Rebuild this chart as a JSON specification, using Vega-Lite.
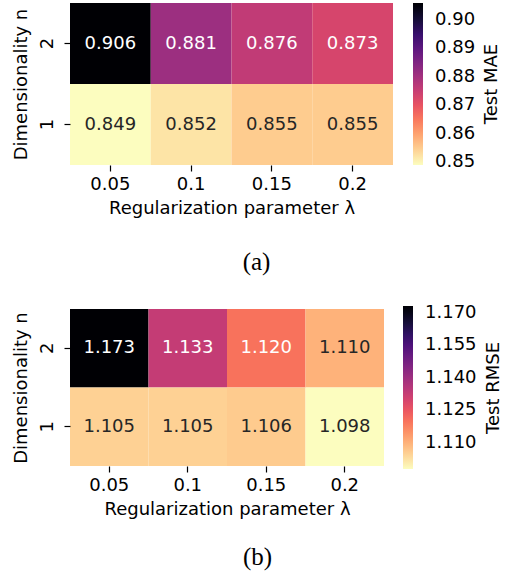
{
  "$schema": "https://vega.github.io/schema/vega-lite/v6.json",
  "padding": {"left": 11, "top": 3, "right": 5, "bottom": 5},
  "spacing": 31,
  "resolve": {"scale": {"color": "independent"}, "legend": {"color": "independent"}},
  "config": {
    "font": "DejaVu Sans",
    "view": {"stroke": null},
    "axis": {"labelFont": "DejaVu Sans", "labelFontSize": 18, "titleFont": "DejaVu Sans", "titleFontSize": 18, "titleFontWeight": "normal", "labelColor": "black", "titleColor": "black", "tickColor": "black", "tickSize": 6, "tickWidth": 1.2, "domain": false, "grid": false, "labelPadding": 4, "titlePadding": 6},
    "legend": {"labelFont": "DejaVu Sans", "labelFontSize": 18, "labelColor": "black", "titleFont": "DejaVu Sans", "titleFontSize": 18, "titleFontWeight": "normal", "titleColor": "black", "titleOrient": "right", "titleAnchor": "middle", "labelOffset": 12, "titlePadding": 8, "labelOverlap": false, "gradientStrokeWidth": 0, "gradientThickness": 10, "direction": "vertical"},
    "title": {"font": "Liberation Serif", "fontSize": 25, "fontWeight": "normal", "orient": "bottom", "anchor": "middle", "frame": "bounds", "color": "black"}
  },
  "vconcat": [
    {
      "title": {"text": "(a)", "offset": 33},
      "width": 323,
      "height": 162,
      "data": {"values": [
        {"lam": "0.05", "n": 2, "v": 0.906},
        {"lam": "0.1", "n": 2, "v": 0.881},
        {"lam": "0.15", "n": 2, "v": 0.876},
        {"lam": "0.2", "n": 2, "v": 0.873},
        {"lam": "0.05", "n": 1, "v": 0.849},
        {"lam": "0.1", "n": 1, "v": 0.852},
        {"lam": "0.15", "n": 1, "v": 0.855},
        {"lam": "0.2", "n": 1, "v": 0.855}
      ]},
      "encoding": {
        "x": {"field": "lam", "type": "ordinal", "sort": ["0.05", "0.1", "0.15", "0.2"], "scale": {"paddingInner": 0, "paddingOuter": 0}, "axis": {"title": "Regularization parameter λ", "labelAngle": 0}},
        "y": {"field": "n", "type": "ordinal", "sort": "descending", "scale": {"paddingInner": 0, "paddingOuter": 0}, "axis": {"title": "Dimensionality n", "labelAngle": 270, "labelPadding": 8, "titlePadding": 8}}
      },
      "layer": [
        {"mark": {"type": "rect"}, "encoding": {"color": {"field": "v", "type": "quantitative", "scale": {"scheme": "magma", "reverse": true, "domain": [0.849, 0.906]}, "legend": {"title": "Test MAE", "orient": "none", "legendX": 343, "legendY": 0, "gradientLength": 162, "titleOrient": "right", "labelFontSize": 18, "labelFont": "DejaVu Sans", "labelOffset": 12, "titlePadding": 8, "values": [0.85, 0.86, 0.87, 0.88, 0.89, 0.90], "format": ".2f", "encode": {"title": {"update": {"angle": {"value": -90}, "baseline": {"value": "top"}}}}}}}},
        {"mark": {"type": "text", "fontSize": 18, "font": "DejaVu Sans"}, "encoding": {"text": {"field": "v", "type": "quantitative", "format": ".3f"}, "color": {"condition": {"test": "datum.v > 0.86", "value": "white"}, "value": "#262626"}}}
      ]
    },
    {
      "title": {"text": "(b)", "offset": 27},
      "width": 314,
      "height": 157,
      "data": {"values": [
        {"lam": "0.05", "n": 2, "v": 1.173},
        {"lam": "0.1", "n": 2, "v": 1.133},
        {"lam": "0.15", "n": 2, "v": 1.120},
        {"lam": "0.2", "n": 2, "v": 1.110},
        {"lam": "0.05", "n": 1, "v": 1.105},
        {"lam": "0.1", "n": 1, "v": 1.105},
        {"lam": "0.15", "n": 1, "v": 1.106},
        {"lam": "0.2", "n": 1, "v": 1.098}
      ]},
      "encoding": {
        "x": {"field": "lam", "type": "ordinal", "sort": ["0.05", "0.1", "0.15", "0.2"], "scale": {"paddingInner": 0, "paddingOuter": 0}, "axis": {"title": "Regularization parameter λ", "labelAngle": 0}},
        "y": {"field": "n", "type": "ordinal", "sort": "descending", "scale": {"paddingInner": 0, "paddingOuter": 0}, "axis": {"title": "Dimensionality n", "labelAngle": 270, "labelPadding": 8, "titlePadding": 8}}
      },
      "layer": [
        {"mark": {"type": "rect"}, "encoding": {"color": {"field": "v", "type": "quantitative", "scale": {"scheme": "magma", "reverse": true, "domain": [1.098, 1.173]}, "legend": {"title": "Test RMSE", "orient": "none", "legendX": 333, "legendY": -3, "gradientLength": 163, "titleOrient": "right", "labelFontSize": 18, "labelFont": "DejaVu Sans", "labelOffset": 12, "titlePadding": 8, "values": [1.110, 1.125, 1.140, 1.155, 1.170], "format": ".3f", "encode": {"title": {"update": {"angle": {"value": -90}, "baseline": {"value": "top"}}}}}}}},
        {"mark": {"type": "text", "fontSize": 18, "font": "DejaVu Sans"}, "encoding": {"text": {"field": "v", "type": "quantitative", "format": ".3f"}, "color": {"condition": {"test": "datum.v > 1.115", "value": "white"}, "value": "#262626"}}}
      ]
    }
  ]
}
